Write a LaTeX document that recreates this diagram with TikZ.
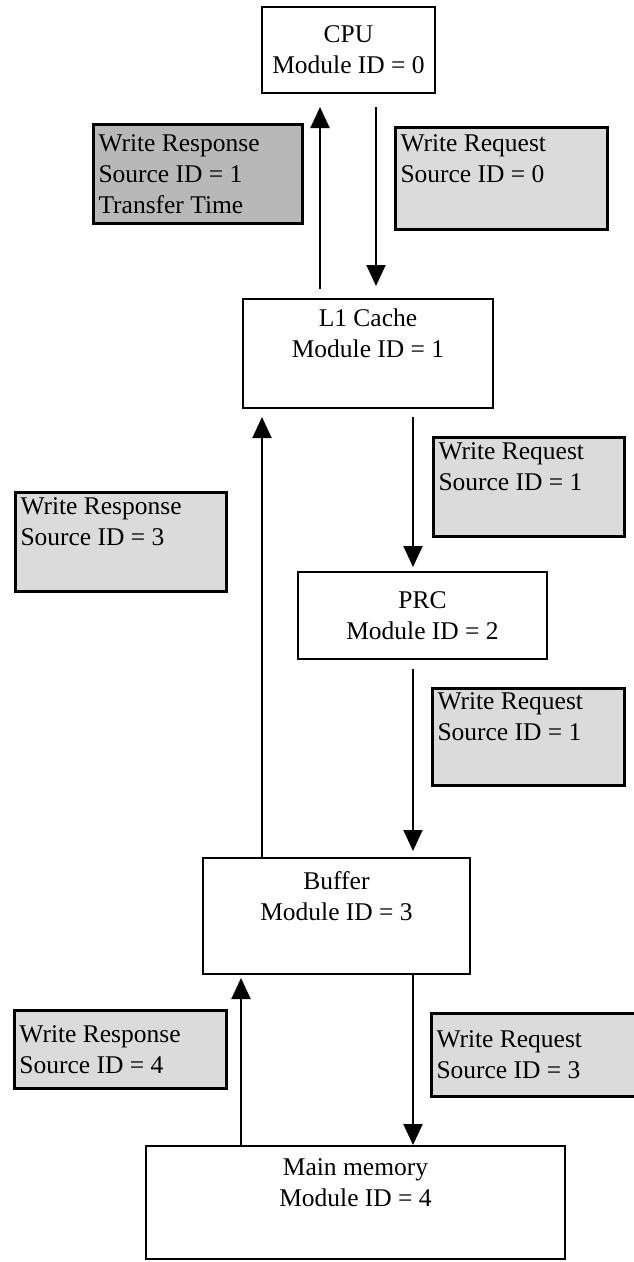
\documentclass[tikz,border=0pt]{standalone}
\usepackage{fontspec}
\setmainfont{Liberation Serif}
\usetikzlibrary{arrows.meta}

\tikzset{
  module/.style={draw,line width=2pt,align=center,inner sep=0pt},
  msgbox/.style={draw,line width=3pt,fill=black!14,align=flush left,anchor=north west,
    inner xsep=5pt,inner ysep=0pt},
  flow/.style={-{Triangle[width=19pt,length=21pt]},line width=2pt},
}

\begin{document}
\begin{tikzpicture}[x=1pt,y=-1pt,font=\fontsize{25.5}{31}\selectfont]
  \useasboundingbox (0,0) rectangle (633,1262);
  % modules
  \node[module,minimum width=173pt,minimum height=86pt] (cpu) at (348.5,50)
    {CPU\\Module ID = 0};
  \node[module,minimum width=250pt,minimum height=109pt] (l1) at (368,353.5)
    {L1 Cache\\Module ID = 1\\\strut};
  \node[module,minimum width=249pt,minimum height=87pt] (prc) at (422.5,615.5)
    {PRC\\Module ID = 2};
  \node[module,minimum width=267pt,minimum height=116pt] (buf) at (336.5,916)
    {Buffer\\Module ID = 3\\\strut};
  \node[module,minimum width=419pt,minimum height=113pt] (mem) at (355.5,1202.5)
    {Main memory\\Module ID = 4\\\strut};
  % messages
  \node[msgbox,fill=black!28,text width=199pt,minimum height=99pt] (resp1) at (92,123)
    {Write Response\\Source ID = 1\\Transfer Time};
  \node[msgbox,text width=202pt,minimum height=102pt] (req0) at (394,126)
    {Write Request\\Source ID = 0\\\strut};
  \node[msgbox,text width=181pt,minimum height=99pt] (req1a) at (432,436)
    {Write Request\\Source ID = 1\\\strut};
  \node[msgbox,text width=201pt,minimum height=99pt] (resp3) at (14,491)
    {Write Response\\Source ID = 3\\\strut};
  \node[msgbox,text width=182pt,minimum height=97pt] (req1b) at (431,687)
    {Write Request\\Source ID = 1\\\strut};
  \node[msgbox,text width=202pt,minimum height=78pt] (resp4) at (13,1009)
    {Write Response\\Source ID = 4};
  \node[msgbox,text width=200pt,minimum height=83pt] (req3) at (430,1012)
    {Write Request\\Source ID = 3};
  % arrow columns
  \coordinate (upA) at (320,0);
  \coordinate (dnA) at (376,0);
  \coordinate (dnB) at (413,0);
  \coordinate (upB) at (262,0);
  \coordinate (upC) at (241,0);
  \draw[flow,shorten <=9pt,shorten >=13pt] (l1.north -| upA) -- (cpu.south -| upA);
  \draw[flow,shorten <=13pt,shorten >=12pt] (cpu.south -| dnA) -- (l1.north -| dnA);
  \draw[flow,shorten <=8pt,shorten >=4pt] (l1.south -| dnB) -- (prc.north -| dnB);
  \draw[flow,shorten <=9pt,shorten >=6pt] (prc.south -| dnB) -- (buf.north -| dnB);
  \draw[flow,shorten >=8pt] (buf.north -| upB) -- (l1.south -| upB);
  \draw[flow,shorten >=3pt] (mem.north -| upC) -- (buf.south -| upC);
  \draw[flow] (buf.south -| dnB) -- (mem.north -| dnB);
\end{tikzpicture}
\end{document}
